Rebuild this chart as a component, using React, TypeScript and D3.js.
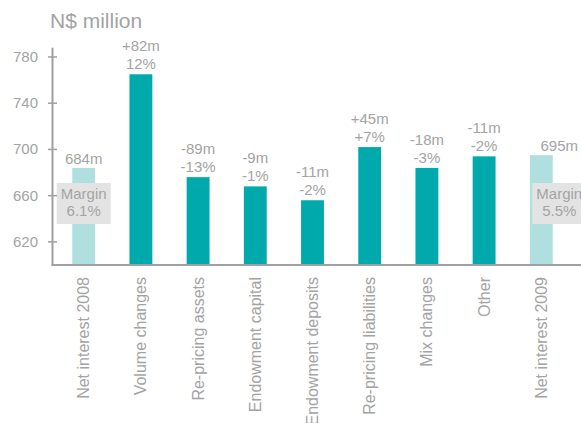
import React from "react";
import * as d3 from "d3";

const categories = [
  "Net interest 2008",
  "Volume changes",
  "Re-pricing assets",
  "Endowment capital",
  "Endowment deposits",
  "Re-pricing liabilities",
  "Mix changes",
  "Other",
  "Net interest 2009",
];
const values = [684, 765, 676, 668, 656, 702, 684, 694, 695];
const isTotal = [true, false, false, false, false, false, false, false, true];
const labelLine1 = ["684m", "+82m", "-89m", "-9m", "-11m", "+45m", "-18m", "-11m", "695m"];
const labelLine2 = ["", "12%", "-13%", "-1%", "-2%", "+7%", "-3%", "-2%", ""];
const marginLabels = ["Margin\n6.1%", "", "", "", "", "", "", "", "Margin\n5.5%"];
const yTicks = [620, 660, 700, 740, 780];
const title = "N$ million";

const W = 581;
const H = 423;
const FONT = "'Liberation Sans', Arial, Helvetica, sans-serif";
const GRAY = "#a3a3a3";
const AXIS = "#a0a0a0";
const DARK = "#00a9ab";
const LIGHT = "#b0dfe0";
const BOX = "#e3e3e3";

export default function App() {
  const x = d3
    .scaleBand<string>()
    .domain(categories)
    .range([55.1, 569.9])
    .paddingInner(0.6)
    .paddingOuter(0.3);
  const y = d3.scaleLinear().domain([600, 788]).range([265, 47.7]);
  const axisX = 52.5;
  const baseY = y(600);

  // annotation offset for last total (labels sit slightly right of bar)
  const annOffset = (i: number) => (i === categories.length - 1 ? 18 : 0);

  return (
    <svg
      width={W}
      height={H}
      style={{ position: "absolute", left: 0, top: 0, fontFamily: FONT }}
    >
      <rect width={W} height={H} fill="#ffffff" />
      <text x={50} y={28} fontSize={21} fill={GRAY}>
        {title}
      </text>

      {categories.map((c, i) => {
        const bx = x(c)!;
        const bw = x.bandwidth();
        const top = y(values[i]);
        const cx = bx + bw / 2 + annOffset(i);
        return (
          <g key={c}>
            <rect
              x={bx}
              y={top}
              width={bw}
              height={baseY - top}
              fill={isTotal[i] ? LIGHT : DARK}
            />
            {labelLine2[i] ? (
              <>
                <text x={cx} y={top - 23} fontSize={15} fill={GRAY} textAnchor="middle">
                  {labelLine1[i]}
                </text>
                <text x={cx} y={top - 5} fontSize={15} fill={GRAY} textAnchor="middle">
                  {labelLine2[i]}
                </text>
              </>
            ) : (
              <text x={cx} y={top - 4} fontSize={15} fill={GRAY} textAnchor="middle">
                {labelLine1[i]}
              </text>
            )}
            {marginLabels[i] ? (
              <g>
                <rect x={cx - 27} y={183} width={54} height={41} fill={BOX} />
                {marginLabels[i].split("\n").map((t, k) => (
                  <text
                    key={k}
                    x={cx}
                    y={199 + k * 17}
                    fontSize={15}
                    fill={GRAY}
                    textAnchor="middle"
                  >
                    {t}
                  </text>
                ))}
              </g>
            ) : null}
            <text
              transform={`translate(${bx + bw / 2 + 5.5},277) rotate(-90)`}
              fontSize={16}
              fill={GRAY}
              textAnchor="end"
            >
              {c}
            </text>
          </g>
        );
      })}

      {/* y axis */}
      <line x1={axisX} x2={axisX} y1={47.7} y2={baseY + 1} stroke={AXIS} strokeWidth={2} />
      <line x1={axisX - 1} x2={W} y1={baseY} y2={baseY} stroke={AXIS} strokeWidth={2} />
      {yTicks.map((t) => (
        <g key={t}>
          <line x1={48} x2={57} y1={y(t)} y2={y(t)} stroke={AXIS} strokeWidth={1.5} />
          <text
            x={38}
            y={y(t) + 5}
            fontSize={15}
            fill={GRAY}
            textAnchor="end"
          >
            {t}
          </text>
        </g>
      ))}
    </svg>
  );
}
